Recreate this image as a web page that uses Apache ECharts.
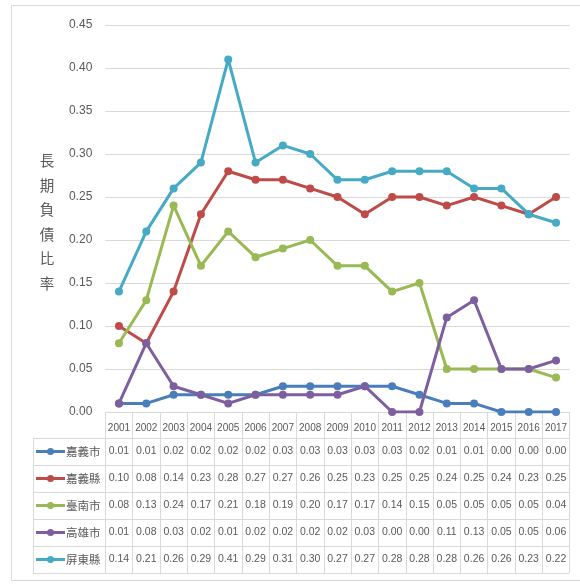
<!DOCTYPE html>
<html>
<head>
<meta charset="utf-8">
<script src="https://cdn.jsdelivr.net/npm/echarts@6/dist/echarts.min.js"></script>
<style>
  html, body { margin: 0; padding: 0; background: #fff; }
  #chart { width: 580px; height: 585px; }
</style>
</head>
<body>
<div id="chart"></div>
<script>
// Years on the category axis
const years = ['2001','2002','2003','2004','2005','2006','2007','2008','2009','2010','2011','2012','2013','2014','2015','2016','2017'];

// Long-term debt ratio by county / city
const chiayiCity   = [0.01,0.01,0.02,0.02,0.02,0.02,0.03,0.03,0.03,0.03,0.03,0.02,0.01,0.01,0.00,0.00,0.00];
const chiayiCounty = [0.10,0.08,0.14,0.23,0.28,0.27,0.27,0.26,0.25,0.23,0.25,0.25,0.24,0.25,0.24,0.23,0.25];
const tainanCity   = [0.08,0.13,0.24,0.17,0.21,0.18,0.19,0.20,0.17,0.17,0.14,0.15,0.05,0.05,0.05,0.05,0.04];
const kaohsiungCity= [0.01,0.08,0.03,0.02,0.01,0.02,0.02,0.02,0.02,0.03,0.00,0.00,0.11,0.13,0.05,0.05,0.06];
const pingtungCounty=[0.14,0.21,0.26,0.29,0.41,0.29,0.31,0.30,0.27,0.27,0.28,0.28,0.28,0.26,0.26,0.23,0.22];

const seriesNames = ['嘉義市','嘉義縣','臺南市','高雄市','屏東縣'];
const seriesData = [chiayiCity, chiayiCounty, tainanCity, kaohsiungCity, pingtungCounty];
const seriesColors = ['#4A7EBB','#BE4B48','#98B954','#7D5FA0','#46AAC5'];

const yTicks = { min: 0, max: 0.45, interval: 0.05 };
const axisTitle = '長期負債比率';

const FONT = '"Liberation Sans", Arial, sans-serif';
const CJK_FONT = '"Noto Sans CJK TC", sans-serif';
const TEXT_COLOR = '#595959';
const LINE_COLOR = '#d9d9d9';

const chart = echarts.init(document.getElementById('chart'), null, { renderer: 'canvas' });

const option = {
  animation: false,
  backgroundColor: '#fff',
  grid: { left: 105.3, right: 10.3, top: 25, bottom: 173 },
  xAxis: {
    type: 'category',
    data: years,
    boundaryGap: true,
    axisLine: { show: true, lineStyle: { color: LINE_COLOR, width: 1 } },
    axisTick: { show: true, length: 161, lineStyle: { color: LINE_COLOR, width: 1 } },
    axisLabel: { color: TEXT_COLOR, fontSize: 10, margin: 11, fontFamily: FONT, interval: 0 }
  },
  yAxis: {
    type: 'value',
    min: yTicks.min, max: yTicks.max, interval: yTicks.interval,
    axisLine: { show: false },
    axisTick: { show: false },
    splitLine: { lineStyle: { color: LINE_COLOR, width: 1 } },
    axisLabel: {
      color: TEXT_COLOR, fontSize: 12, margin: 13, fontFamily: FONT,
      formatter: v => v.toFixed(2)
    }
  },
  series: seriesNames.map((name, i) => ({
    name,
    type: 'line',
    data: seriesData[i],
    symbol: 'circle',
    symbolSize: 8,
    lineStyle: { color: seriesColors[i], width: 3 },
    itemStyle: { color: seriesColors[i] }
  }))
};

chart.setOption(option);

// Data table under the plot, columns aligned with the category axis
function buildTable() {
  const g = [];
  const tableLeft = 33;
  const tableRight = chart.convertToPixel({ xAxisIndex: 0 }, years.length - 1) + 13.65;
  const rowTop = 438;
  const rowH = 27;

  // outer frame of the chart area (right side runs past the page edge)
  g.push({ type: 'rect', shape: { x: 11.5, y: 5.5, width: 600, height: 575 },
           style: { fill: null, stroke: LINE_COLOR, lineWidth: 1 }, silent: true });

  // horizontal table rules
  for (let r = 0; r <= seriesNames.length; r++) {
    const y = Math.round(rowTop + r * rowH) + 0.5;
    g.push({ type: 'line', shape: { x1: tableLeft, y1: y, x2: tableRight, y2: y },
             style: { stroke: LINE_COLOR, lineWidth: 1 }, silent: true });
  }
  // left edge of the key column
  g.push({ type: 'line', shape: { x1: tableLeft + 0.5, y1: rowTop, x2: tableLeft + 0.5, y2: rowTop + rowH * seriesNames.length },
           style: { stroke: LINE_COLOR, lineWidth: 1 }, silent: true });

  seriesNames.forEach((name, r) => {
    const cy = rowTop + r * rowH + rowH / 2;
    // legend key: line with a dot
    g.push({ type: 'line', shape: { x1: 36, y1: cy, x2: 65, y2: cy },
             style: { stroke: seriesColors[r], lineWidth: 3 }, silent: true });
    g.push({ type: 'circle', shape: { cx: 50.5, cy: cy, r: 3.5 },
             style: { fill: seriesColors[r] }, silent: true });
    g.push({ type: 'text', x: 66, y: cy,
             style: { text: name, fill: TEXT_COLOR, fontSize: 11.5, fontFamily: CJK_FONT,
                      verticalAlign: 'middle', align: 'left' }, silent: true });
    seriesData[r].forEach((v, c) => {
      const cx = chart.convertToPixel({ xAxisIndex: 0 }, c);
      g.push({ type: 'text', x: cx, y: cy,
               style: { text: v.toFixed(2), fill: TEXT_COLOR, fontSize: 10.5, fontFamily: FONT,
                        align: 'center', verticalAlign: 'middle' }, silent: true });
    });
  });

  // vertical axis title, one character per line
  const chars = axisTitle.split('');
  const titleCenter = 222;
  const step = 24.5;
  chars.forEach((ch, k) => {
    g.push({ type: 'text', x: 47, y: titleCenter + (k - (chars.length - 1) / 2) * step,
             style: { text: ch, fill: TEXT_COLOR, fontSize: 14.5, fontFamily: CJK_FONT,
                      align: 'center', verticalAlign: 'middle' }, silent: true });
  });

  chart.setOption({ graphic: { elements: g } });
}
buildTable();
</script>
</body>
</html>
